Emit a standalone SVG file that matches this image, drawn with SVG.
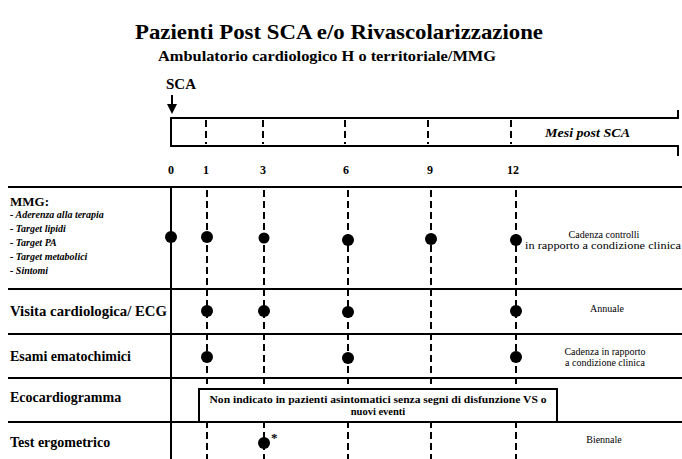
<svg xmlns="http://www.w3.org/2000/svg" width="682" height="459" viewBox="0 0 682 459" font-family="'Liberation Serif', 'DejaVu Serif', serif">
<defs>
<style>
text{font-family:'Liberation Serif','DejaVu Serif',serif;fill:#000}
.b{font-weight:bold}
.row{stroke:#000;stroke-width:2;fill:none}
.dash{stroke:#000;stroke-width:2;stroke-dasharray:7 4;fill:none}
.solid{stroke:#000;stroke-width:2;fill:none}
.dot{fill:#000}
.lbl{font-size:14px;font-weight:bold}
.sm{font-size:10px}
.it{font-size:10px;font-style:italic;font-weight:bold}
</style>
</defs>
<rect width="682" height="459" fill="#fff"/>

<g id="title">
<text class="b" x="339" y="39" font-size="22" text-anchor="middle" textLength="408" lengthAdjust="spacingAndGlyphs">Pazienti  Post SCA e/o Rivascolarizzazione</text>
<text class="b" x="327" y="61" font-size="14" text-anchor="middle" textLength="338" lengthAdjust="spacingAndGlyphs">Ambulatorio cardiologico H o territoriale/MMG</text>
</g>

<g id="sca">
<text class="b" x="166" y="89" font-size="15">SCA</text>
<line x1="172" y1="95" x2="172" y2="106" class="solid"/>
<path d="M167,104 L177,104 L172,114 Z" fill="#000"/>
</g>

<g id="timeline-bar">
<path d="M678,110 L678,118 L171,118 L171,146 L678,146 L678,156" class="solid"/>
<line x1="206" y1="120" x2="206" y2="144" class="dash"/>
<line x1="263" y1="120" x2="263" y2="144" class="dash"/>
<line x1="345" y1="120" x2="345" y2="144" class="dash"/>
<line x1="428" y1="120" x2="428" y2="144" class="dash"/>
<line x1="511" y1="120" x2="511" y2="144" class="dash"/>
<text class="b" x="545" y="137" font-size="12" font-style="italic" textLength="85" lengthAdjust="spacingAndGlyphs">Mesi post SCA</text>
</g>

<g id="month-labels" font-size="12" font-weight="bold" text-anchor="middle">
<text x="171" y="174">0</text>
<text x="206" y="174">1</text>
<text x="263" y="174">3</text>
<text x="346" y="174">6</text>
<text x="430" y="174">9</text>
<text x="513" y="174">12</text>
</g>

<g id="grid">
<line x1="8" y1="187" x2="682" y2="187" class="row"/>
<line x1="8" y1="289" x2="682" y2="289" class="row"/>
<line x1="8" y1="334" x2="682" y2="334" class="row"/>
<line x1="8" y1="378" x2="682" y2="378" class="row"/>
<line x1="8" y1="422" x2="682" y2="422" class="row"/>
</g>

<g id="connectors">
<line x1="171" y1="187" x2="171" y2="459" class="solid"/>
<line x1="207" y1="190" x2="207" y2="459" class="dash"/>
<line x1="264" y1="190" x2="264" y2="459" class="dash"/>
<line x1="348" y1="190" x2="348" y2="459" class="dash"/>
<line x1="431" y1="190" x2="431" y2="459" class="dash"/>
<line x1="516" y1="190" x2="516" y2="459" class="dash"/>
</g>

<g id="row-mmg">
<text class="b" x="10" y="206" font-size="13">MMG:</text>
<text class="it" x="10" y="218">- Aderenza alla terapia</text>
<text class="it" x="10" y="232">- Target lipidi</text>
<text class="it" x="10" y="246">- Target PA</text>
<text class="it" x="10" y="260">- Target metabolici</text>
<text class="it" x="10" y="274">- Sintomi</text>
<circle class="dot" cx="171" cy="237" r="6"/>
<circle class="dot" cx="207" cy="237" r="6"/>
<circle class="dot" cx="264" cy="238" r="5.5"/>
<circle class="dot" cx="348" cy="240" r="6"/>
<circle class="dot" cx="431" cy="239" r="6"/>
<circle class="dot" cx="516" cy="240" r="6"/>
<text class="sm" x="604" y="238" text-anchor="middle">Cadenza controlli</text>
<text class="sm" x="603" y="249" text-anchor="middle" textLength="156" lengthAdjust="spacingAndGlyphs">in rapporto a condizione clinica</text>
</g>

<g id="row-visita">
<text class="lbl" x="10" y="316" textLength="157" lengthAdjust="spacingAndGlyphs">Visita cardiologica/ ECG</text>
<circle class="dot" cx="207" cy="311" r="6"/>
<circle class="dot" cx="264" cy="311" r="6"/>
<circle class="dot" cx="348" cy="312" r="6"/>
<circle class="dot" cx="516" cy="311" r="6"/>
<text class="sm" x="607" y="312" text-anchor="middle">Annuale</text>
</g>

<g id="row-esami">
<text class="lbl" x="10" y="361">Esami ematochimici</text>
<circle class="dot" cx="207" cy="357" r="6"/>
<circle class="dot" cx="348" cy="358" r="6"/>
<circle class="dot" cx="516" cy="357" r="6"/>
<text class="sm" x="605" y="355" text-anchor="middle">Cadenza in rapporto</text>
<text class="sm" x="605" y="366" text-anchor="middle">a condizione clinica</text>
</g>

<g id="row-eco">
<text class="lbl" x="10" y="402">Ecocardiogramma</text>
<rect x="199" y="389" width="358" height="33" fill="#fff" stroke="#000" stroke-width="2"/>
<text class="b" x="378" y="403" font-size="10.5" text-anchor="middle" textLength="337" lengthAdjust="spacingAndGlyphs">Non indicato in pazienti asintomatici senza segni di disfunzione VS o</text>
<text class="b" x="378" y="415" font-size="10.5" text-anchor="middle">nuovi eventi</text>
</g>

<g id="row-test">
<text class="lbl" x="10" y="447">Test ergometrico</text>
<circle class="dot" cx="264" cy="443" r="6"/>
<text class="b" x="271" y="442" font-size="13">*</text>
<text class="sm" x="604" y="443" text-anchor="middle">Biennale</text>
</g>
</svg>
